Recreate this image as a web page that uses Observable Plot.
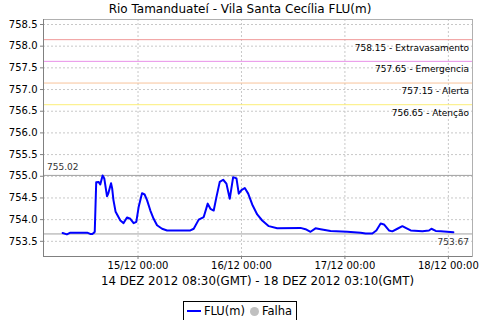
<!DOCTYPE html>
<html>
<head>
<meta charset="utf-8">
<script src="https://cdn.jsdelivr.net/npm/d3@7"></script>
<script src="https://cdn.jsdelivr.net/npm/@observablehq/plot@0.6"></script>
<style>
  body { margin: 0; background: #fff; font-family: "DejaVu Sans", sans-serif; width: 480px; height: 320px; overflow: hidden; }
  #title { height: 17px; line-height: 18px; font-size: 12px; text-align: center; color: #000; }
  #sub { height: 18px; line-height: 18px; font-size: 11.8px; text-align: center; color: #000; margin-top: 0px; padding-left: 35px; }
  #legend-wrap { text-align: center; margin-top: 7px; }
  #legend { display: inline-flex; align-items: center; border: 1px solid #000; padding: 1px 4px 1px 3px; font-size: 11.5px; height: 16px; }
  .sw-line { display: inline-block; width: 14px; height: 2px; background: #0000ff; margin-right: 3px; }
  .sw-dot { display: inline-block; width: 9px; height: 9px; border-radius: 50%; background: #c0c0c0; margin: 0 3px 0 5px; }
</style>
</head>
<body>
<div id="title">Rio Tamanduateí - Vila Santa Cecília FLU(m)</div>
<div id="chart"></div>
<div id="sub">14 DEZ 2012 08:30(GMT) - 18 DEZ 2012 03:10(GMT)</div>
<div id="legend-wrap"><div id="legend"><span class="sw-line"></span>FLU(m)<span class="sw-dot"></span>Falha</div></div>
<script>
// Hours since 14/12/2012 00:00 (local time, GMT-2)
const hours = [6.5, 7.5, 8.3, 10.6, 12.2, 12.9, 13.4, 13.8, 13.96, 14.3, 14.85, 15.24, 15.78, 16.17, 16.8, 17.1, 17.74, 18.0, 18.3, 18.8, 19.9, 20.65, 21.44, 22.21, 22.98, 23.6, 24.14, 24.93, 25.53, 26.09, 26.86, 27.62, 28.41, 29.58, 30.74, 36.15, 36.92, 38.08, 39.24, 40.17, 40.8, 41.56, 42.19, 42.96, 43.75, 44.51, 45.28, 46.07, 46.84, 47.37, 48.0, 48.77, 49.56, 50.49, 51.65, 52.81, 54.34, 56.29, 61.7, 62.86, 64.02, 65.18, 66.35, 68.67, 72.55, 75.64, 76.8, 78.36, 79.29, 80.29, 81.06, 82.22, 83.0, 84.17, 85.33, 86.1, 87.26, 89.98, 91.51, 92.07, 93.07, 94.23, 97.17];
const levels = [753.69, 753.66, 753.70, 753.70, 753.70, 753.67, 753.67, 753.70, 753.72, 754.86, 754.87, 754.81, 755.02, 754.95, 754.54, 754.60, 754.84, 754.72, 754.45, 754.18, 753.98, 753.92, 754.05, 754.02, 753.92, 753.95, 754.29, 754.61, 754.58, 754.45, 754.21, 754.02, 753.87, 753.79, 753.75, 753.75, 753.79, 754.00, 754.06, 754.37, 754.25, 754.21, 754.52, 754.87, 754.92, 754.83, 754.48, 754.98, 754.95, 754.60, 754.68, 754.73, 754.60, 754.35, 754.12, 753.98, 753.85, 753.80, 753.81, 753.78, 753.72, 753.80, 753.78, 753.74, 753.72, 753.70, 753.68, 753.68, 753.75, 753.91, 753.89, 753.75, 753.73, 753.79, 753.85, 753.81, 753.75, 753.73, 753.75, 753.79, 753.74, 753.73, 753.71];

const thresholdValues = [758.15, 757.65, 757.15, 756.65];
const thresholdNames = ["Extravasamento", "Emergencia", "Alerta", "Atenção"];
const maxValue = 755.02;
const minValue = 753.67;

const yTicks = [753.5, 754.0, 754.5, 755.0, 755.5, 756.0, 756.5, 757.0, 757.5, 758.0, 758.5];
const xTicks = [24, 48, 72, 96];
const xTickLabels = ["15/12 00:00", "16/12 00:00", "17/12 00:00", "18/12 00:00"];
const xDomain = [2.07, 101.6];
const yDomain = [753.15, 758.615];

const thresholdColors = ["#f09898", "#e890e8", "#f8c49a", "#fcee78"];

const data = hours.map((h, i) => ({h, v: levels[i]}));
const thresholds = thresholdValues.map((v, i) => ({v, label: `${v.toFixed(2)} - ${thresholdNames[i]}`, color: thresholdColors[i]}));

const chart = Plot.plot({
  width: 480,
  height: 255,
  marginLeft: 43,
  marginRight: 8,
  marginTop: 2,
  marginBottom: 16,
  style: {fontFamily: "DejaVu Sans, sans-serif", background: "#fff", color: "#000"},
  x: {domain: xDomain, label: null},
  y: {domain: yDomain, label: null},
  marks: [
    Plot.gridY(yTicks, {stroke: "#c8c8c8", strokeOpacity: 1, strokeDasharray: "2,2"}),
    Plot.gridX(xTicks, {stroke: "#c8c8c8", strokeOpacity: 1, strokeDasharray: "2,2"}),
    Plot.ruleY(thresholds, {y: "v", stroke: "color", strokeWidth: 1}),
    Plot.ruleY([maxValue, minValue], {stroke: "#a0a0a0", strokeWidth: 1}),
    Plot.frame({stroke: "#b0b0b0"}),
    Plot.ruleX([xDomain[0]], {stroke: "#808080"}),
    Plot.ruleY([yDomain[0]], {stroke: "#808080"}),
    Plot.axisY(yTicks, {label: null, tickSize: 3, tickPadding: 3, fontSize: 10, tickFormat: d => d.toFixed(1), stroke: "#808080", fill: "#000"}),
    Plot.axisX(xTicks, {label: null, tickSize: 3, tickPadding: 2, fontSize: 10, tickFormat: (d, i) => xTickLabels[i], stroke: "#808080", fill: "#000"}),
    Plot.text(thresholds, {y: "v", text: "label", frameAnchor: "right", textAnchor: "end", dx: -3.5, dy: 8, fontSize: 9, fill: "#000"}),
    Plot.text([maxValue], {y: d => d, text: d => d.toFixed(2), frameAnchor: "left", textAnchor: "start", dx: 3.5, dy: -8, fontSize: 9, fill: "#333"}),
    Plot.text([minValue], {y: d => d, text: d => d.toFixed(2), frameAnchor: "right", textAnchor: "end", dx: -3.5, dy: 8.5, fontSize: 9, fill: "#333"}),
    Plot.line(data, {x: "h", y: "v", stroke: "#0000ff", strokeWidth: 2, curve: "linear"})
  ]
});
document.getElementById("chart").appendChild(chart);
</script>
</body>
</html>
